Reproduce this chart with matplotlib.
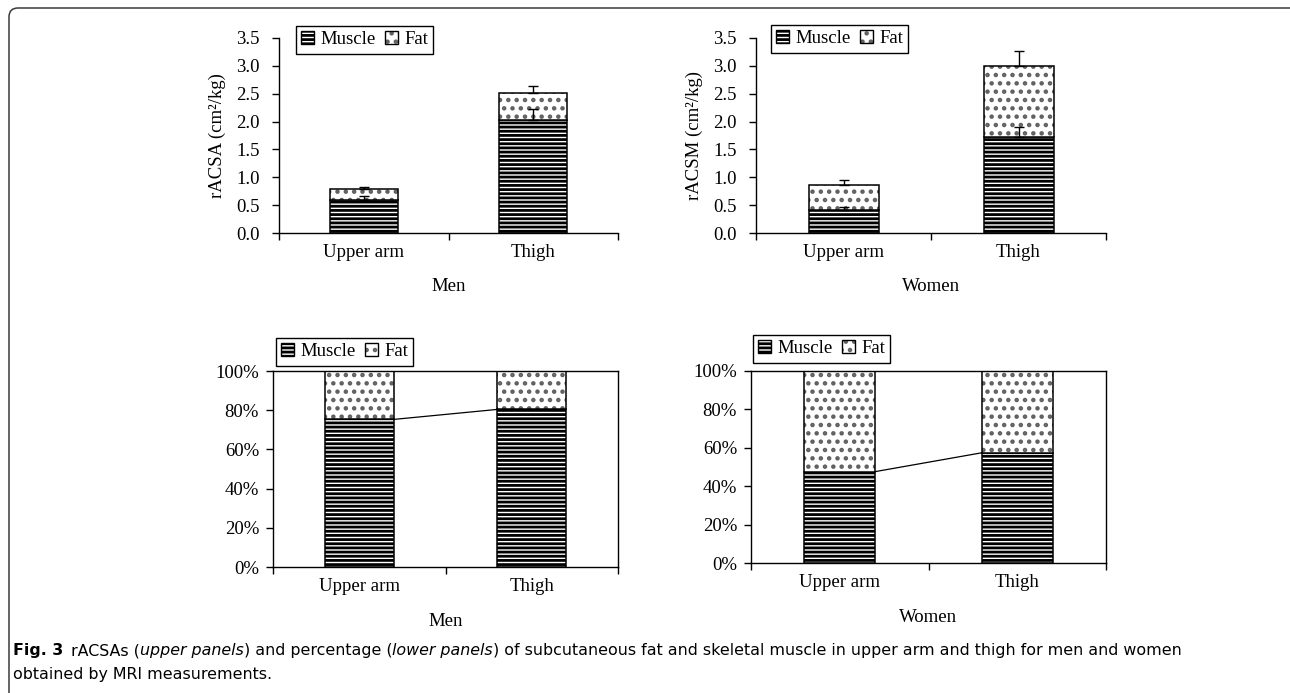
import matplotlib
matplotlib.use("Agg")
import matplotlib.pyplot as plt
from matplotlib.patches import FancyBboxPatch, Patch
from matplotlib.legend_handler import HandlerTuple
from matplotlib.transforms import IdentityTransform
import numpy as np

# ---------------- data ----------------
categories = ['Upper arm', 'Thigh']
series_names = ['Muscle', 'Fat']

men_muscle = [0.60, 2.02]
men_fat = [0.19, 0.49]
men_muscle_err = [0.07, 0.21]
men_total_err = [0.04, 0.12]

women_muscle = [0.42, 1.72]
women_fat = [0.44, 1.28]
women_muscle_err = [0.05, 0.18]
women_total_err = [0.09, 0.26]

men_muscle_pct = [75.3, 80.4]
men_fat_pct = [24.7, 19.6]
women_muscle_pct = [47.6, 57.4]
women_fat_pct = [52.4, 42.6]

y_ticks_abs = [0.0, 0.5, 1.0, 1.5, 2.0, 2.5, 3.0, 3.5]
y_ticks_pct = [0, 20, 40, 60, 80, 100]

caption_bold = 'Fig. 3'

# ---------------- style ----------------
W, H = 1290, 693
DPI = 100
plt.rcParams['font.family'] = ['Liberation Serif', 'DejaVu Serif']
plt.rcParams['hatch.linewidth'] = 2.0
FS = 13.5
BAR_W = 0.4
MUSCLE_HATCH = '----'
FAT_HATCH = '..'
FAT_DOT_COLOR = '#606060'

fig = plt.figure(figsize=(W / DPI, H / DPI), dpi=DPI)


def ax_rect(x0, y0, x1, y1):
    return [x0 / W, 1 - y1 / H, (x1 - x0) / W, (y1 - y0) / H]


def style_axes(ax, full_box):
    ax.set_xlim(-0.5, len(categories) - 0.5)
    ax.set_xticks(range(len(categories)))
    ax.set_xticklabels(categories, fontsize=FS)
    ax.set_xticks(np.arange(-0.5, len(categories), 1.0), minor=True)
    ax.tick_params(axis='x', which='major', length=0, pad=8)
    ax.tick_params(axis='x', which='minor', length=5, width=1, direction='out')
    ax.tick_params(axis='y', which='major', length=5, width=1, direction='out', labelsize=FS)
    for s in ['left', 'bottom']:
        ax.spines[s].set_linewidth(1.0)
    if full_box:
        for s in ['top', 'right']:
            ax.spines[s].set_linewidth(1.0)
    else:
        ax.spines['top'].set_visible(False)
        ax.spines['right'].set_visible(False)


def add_legend(ax, x_px, y_px):
    muscle_h = Patch(facecolor='white', edgecolor='black', hatch=MUSCLE_HATCH, linewidth=1.0)
    fat_h = (Patch(facecolor='white', edgecolor=FAT_DOT_COLOR, hatch=FAT_HATCH, linewidth=0),
             Patch(fill=False, edgecolor='black', linewidth=1.0))
    leg = ax.legend([muscle_h, fat_h], series_names, loc='upper left', ncol=2,
                    handler_map={tuple: HandlerTuple(ndivide=1, pad=0)},
                    bbox_to_anchor=(x_px / W, 1 - y_px / H), bbox_transform=fig.transFigure,
                    frameon=True, fancybox=False, edgecolor='black', framealpha=1,
                    fontsize=FS, handlelength=0.7, handleheight=0.7, handletextpad=0.35,
                    columnspacing=0.45, borderpad=0.28, borderaxespad=0)
    leg.get_frame().set_linewidth(1.0)


def draw_stack(ax, x, lower, upper):
    ax.bar(x, lower, BAR_W, color='white', edgecolor='black', hatch=MUSCLE_HATCH,
           linewidth=1.1, zorder=2)
    ax.bar(x, upper, BAR_W, bottom=lower, color='white', edgecolor=FAT_DOT_COLOR,
           hatch=FAT_HATCH, linewidth=0, zorder=2)
    ax.bar(x, upper, BAR_W, bottom=lower, fill=False, edgecolor='black',
           linewidth=1.1, zorder=2.5)


def abs_panel(rect, muscle, fat, m_err, t_err, ylabel, xlabel, leg_xy):
    ax = fig.add_axes(ax_rect(*rect))
    x = np.arange(len(categories))
    draw_stack(ax, x, muscle, fat)
    total = np.array(muscle) + np.array(fat)
    ax.errorbar(x, muscle, yerr=[np.zeros(len(x)), m_err], fmt='none', ecolor='black',
                elinewidth=1.0, capsize=3.5, capthick=1.0, zorder=3)
    ax.errorbar(x, total, yerr=[np.zeros(len(x)), t_err], fmt='none', ecolor='black',
                elinewidth=1.0, capsize=3.5, capthick=1.0, zorder=3)
    ax.set_ylim(0, 3.5)
    ax.set_yticks(y_ticks_abs)
    ax.set_yticklabels([f'{v:.1f}' for v in y_ticks_abs])
    ax.tick_params(axis='y', pad=9)
    style_axes(ax, full_box=False)
    ax.set_ylabel(ylabel, fontsize=FS, labelpad=7)
    ax.set_xlabel(xlabel, fontsize=FS, labelpad=12)
    add_legend(ax, *leg_xy)
    return ax


def pct_panel(rect, muscle_pct, fat_pct, xlabel, leg_xy):
    ax = fig.add_axes(ax_rect(*rect))
    x = np.arange(len(categories))
    draw_stack(ax, x, muscle_pct, fat_pct)
    # series line joining the muscle segment tops
    ax.plot([x[0] + BAR_W / 2, x[1] - BAR_W / 2], [muscle_pct[0], muscle_pct[1]],
            color='black', linewidth=0.9, zorder=3)
    ax.set_ylim(0, 100)
    ax.set_yticks(y_ticks_pct)
    ax.set_yticklabels([f'{v}%' for v in y_ticks_pct])
    ax.tick_params(axis='y', pad=5)
    style_axes(ax, full_box=True)
    ax.set_xlabel(xlabel, fontsize=FS, labelpad=13)
    add_legend(ax, *leg_xy)
    return ax


abs_panel((279, 38, 618, 233), men_muscle, men_fat, men_muscle_err, men_total_err,
          'rACSA (cm²/kg)', 'Men', (296, 26))
abs_panel((756, 38, 1106, 233), women_muscle, women_fat, women_muscle_err, women_total_err,
          'rACSM (cm²/kg)', 'Women', (771, 25))
pct_panel((273, 371, 618, 567), men_muscle_pct, men_fat_pct, 'Men', (276, 338))
pct_panel((751, 371, 1106, 563), women_muscle_pct, women_fat_pct, 'Women', (753, 335))

# outer rounded frame (open at right and bottom)
frame = FancyBboxPatch((9, -30), 1320, 715, boxstyle='round,pad=0,rounding_size=9',
                       transform=IdentityTransform(), fill=False, edgecolor='#3a3a3a',
                       linewidth=1.1, figure=fig)
fig.patches.append(frame)

# caption
cap_font = ['Liberation Sans Narrow', 'DejaVu Sans']
cap_fs = 11.4
y1 = 1 - 651 / H
y2 = 1 - 674 / H
t = fig.text(13 / W, y1, caption_bold, fontsize=cap_fs, fontweight='bold', family=cap_font,
             va='center', ha='left')
parts = [(' rACSAs (', 'normal'), ('upper panels', 'italic'), (') and percentage (', 'normal'),
         ('lower panels', 'italic'),
         (') of subcutaneous fat and skeletal muscle in upper arm and thigh for men and women', 'normal')]
fig.canvas.draw()
renderer = fig.canvas.get_renderer()
xpos = t.get_window_extent(renderer).x1 + 3
for txt, style in parts:
    tt = fig.text(xpos / W, y1, txt, fontsize=cap_fs, style=style, family=cap_font,
                  va='center', ha='left')
    xpos = tt.get_window_extent(renderer).x1
fig.text(13 / W, y2, 'obtained by MRI measurements.', fontsize=cap_fs, family=cap_font,
         va='center', ha='left')

fig.savefig('out.png', dpi=DPI)
